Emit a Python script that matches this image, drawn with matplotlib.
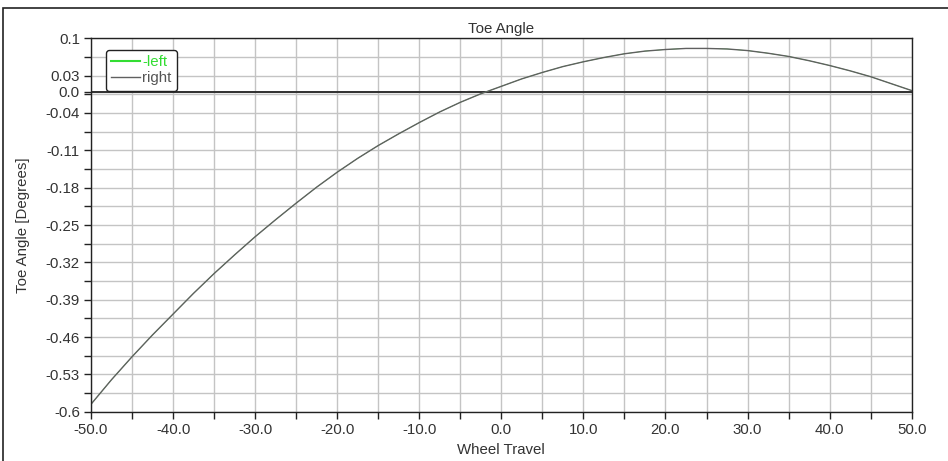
import matplotlib
matplotlib.use('Agg')
import matplotlib.pyplot as plt
from matplotlib.patches import Rectangle
from matplotlib.ticker import FixedLocator, MultipleLocator
import numpy as np

plt.rcParams['font.family'] = ['Liberation Sans', 'DejaVu Sans']

# wheel travel vs toe angle
travel = [-50, -47.5, -45, -42.5, -40, -37.5, -35, -32.5, -30, -27.5, -25,
          -22.5, -20, -17.5, -15, -12.5, -10, -7.5, -5, -2.5, 0,
          2.5, 5, 7.5, 10, 12.5, 15, 17.5, 20, 22.5, 25,
          27.5, 30, 32.5, 35, 37.5, 40, 42.5, 45, 47.5, 50]
toe_right = [-0.586, -0.540, -0.497, -0.456, -0.417, -0.378, -0.341, -0.306, -0.272, -0.240, -0.209,
             -0.179, -0.151, -0.125, -0.101, -0.079, -0.058, -0.038, -0.020, -0.004, 0.010,
             0.024, 0.036, 0.047, 0.056, 0.064, 0.071, 0.076, 0.079, 0.081, 0.081,
             0.080, 0.077, 0.072, 0.066, 0.058, 0.049, 0.039, 0.028, 0.015, 0.002]
toe_left = list(toe_right)

y_ticks = [-0.6, -0.53, -0.46, -0.39, -0.32, -0.25, -0.18, -0.11, -0.04, 0.0, 0.03, 0.1]
y_labels = ['-0.6', '-0.53', '-0.46', '-0.39', '-0.32', '-0.25', '-0.18', '-0.11',
            '-0.04', '0.0', '0.03', '0.1']
x_ticks = [-50, -40, -30, -20, -10, 0, 10, 20, 30, 40, 50]

fs = 10.8
fig = plt.figure(figsize=(9.48, 4.61), dpi=100)
ax = fig.add_axes([91 / 948, 1 - 411.7 / 461, 820.7 / 948, 373.4 / 461])

# outer frame
fig.add_artist(Rectangle((3 / 948, -0.2), 1.2, 1.2 - 8 / 461, transform=fig.transFigure,
                         fill=False, edgecolor='#222222', linewidth=1.2))

ax.plot(travel, toe_left, color='#33dd33', linewidth=0.4, label='-left')
ax.plot(travel, toe_right, color='#606060', linewidth=1.0, label='right')
ax.axhline(0.0, color='#303030', linewidth=1.4, zorder=1.5)

ax.set_xlim(-50, 50)
ax.set_ylim(-0.6, 0.1)
ax.set_xticks(x_ticks)
ax.set_xticklabels(['%.1f' % v for v in x_ticks])
ax.xaxis.set_minor_locator(MultipleLocator(5))
ax.set_yticks(y_ticks)
ax.set_yticklabels(y_labels)
minor_y = [-0.565, -0.495, -0.425, -0.355, -0.285, -0.215, -0.145, -0.075, -0.005, 0.065]
ax.yaxis.set_minor_locator(FixedLocator(minor_y))

ax.grid(True, which='both', color='#c4c4c4', linewidth=1.0)
ax.set_axisbelow(True)
ax.tick_params(which='both', direction='out', length=5, width=1, colors='#222222',
               labelsize=fs, labelcolor='#333333', pad=3)
for s in ax.spines.values():
    s.set_color('#222222')
    s.set_linewidth(1.0)

ax.set_title('Toe Angle', fontsize=fs, color='#333333', pad=4)
ax.set_xlabel('Wheel Travel', fontsize=fs, color='#333333')
ax.set_ylabel('Toe Angle [Degrees]', fontsize=fs, color='#333333')
ax.xaxis.set_label_coords(0.5, -0.085)
ax.yaxis.set_label_coords(-0.074, 0.5)

leg = ax.legend(loc='upper left', bbox_to_anchor=(0.0183, 0.9687), borderaxespad=0,
                fontsize=fs, handlelength=1.9, handletextpad=0.15, labelspacing=0.15,
                borderpad=0.35, fancybox=True, framealpha=1, edgecolor='#222222',
                labelcolor=['#33dd33', '#555555'])
leg.get_frame().set_linewidth(1.0)
leg.get_lines()[0].set_linewidth(1.5)

fig.savefig('out.png', dpi=100)
